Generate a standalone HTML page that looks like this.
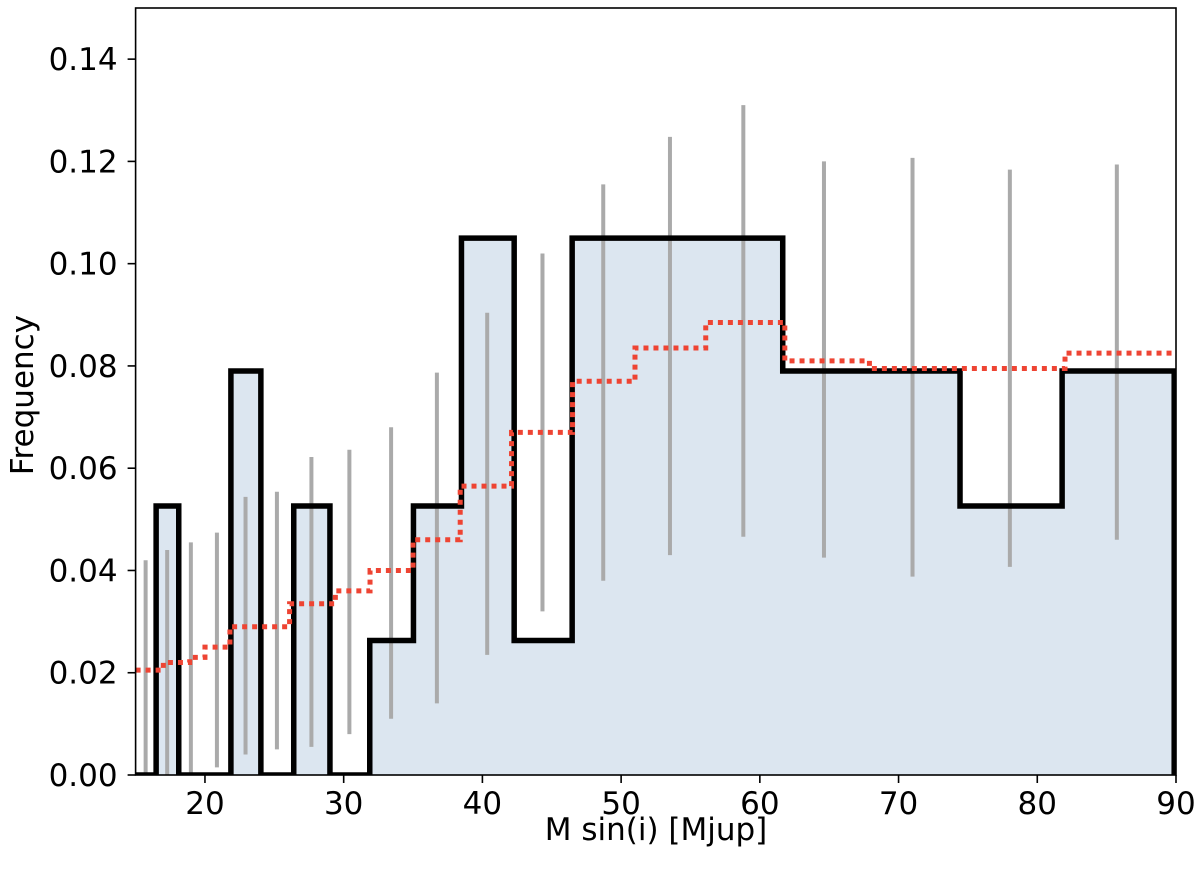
<!DOCTYPE html>
<html><head><meta charset="utf-8"><style>
body{margin:0;background:#fff}
svg text{font-family:"DejaVu Sans","Liberation Sans",sans-serif;fill:#000}
</style></head><body>
<svg id="chart" width="1200" height="875" viewBox="0 0 1200 875">
<defs><clipPath id="clip"><rect x="135.6" y="8" width="1040.4" height="767"/></clipPath></defs>
<g id="plot" clip-path="url(#clip)"></g>
<g id="axes"></g>
<text x="656" y="840" font-size="31" text-anchor="middle">M sin(i) [Mjup]</text>
<text x="33" y="395" font-size="31" text-anchor="middle" transform="rotate(-90 33 395)">Frequency</text>
</svg>
<script>
const binEdges=[15,16.48,18.11,19.90,21.87,24.03,26.40,29.01,31.88,35.03,38.49,42.29,46.47,51.06,56.10,61.65,67.74,74.43,81.79,89.87];
const freqs=[0,0.0526,0,0,0.079,0,0.0526,0,0.0263,0.0526,0.105,0.0263,0.105,0.105,0.105,0.079,0.079,0.0526,0.079];
const errLow=[0,0,0,0.0015,0.004,0.005,0.0055,0.008,0.011,0.014,0.0235,0.032,0.038,0.043,0.0466,0.0425,0.0388,0.0407,0.046];
const errHigh=[0.042,0.044,0.0455,0.0474,0.0544,0.0554,0.0622,0.0636,0.068,0.0787,0.0904,0.102,0.1155,0.1248,0.131,0.12,0.1207,0.1184,0.1194];
const refX=[15,17.0,18.9,20,21.8,26.1,29.4,31.9,35.0,38.4,42.1,46.5,51.0,56.1,61.8,67.9,82.0,90];
const refY=[0.0205,0.022,0.023,0.025,0.029,0.0335,0.036,0.040,0.046,0.0565,0.067,0.077,0.0835,0.0885,0.081,0.0795,0.0825];
const xTicks=[20,30,40,50,60,70,80,90];
const yTicks=[0,0.02,0.04,0.06,0.08,0.10,0.12,0.14];
const X0=135.6,X1=1176,Y0=775,Y1=8,xmin=15,xmax=90,ymin=0,ymax=0.15;
const sx=v=>X0+(v-xmin)/(xmax-xmin)*(X1-X0);
const sy=v=>Y0-(v-ymin)/(ymax-ymin)*(Y0-Y1);
const NS="http://www.w3.org/2000/svg";
function mk(tag,attrs,parent){const e=document.createElementNS(NS,tag);for(const k in attrs)e.setAttribute(k,attrs[k]);parent.appendChild(e);return e;}
const plot=document.getElementById('plot'),axes=document.getElementById('axes');
let d=`M${sx(binEdges[0])},${sy(0)}`;
freqs.forEach((f,i)=>{d+=` L${sx(binEdges[i])},${sy(f)} L${sx(binEdges[i+1])},${sy(f)}`;});
d+=` L${sx(binEdges[binEdges.length-1])},${sy(0)}`;
const fill=mk('path',{d:d+' Z',fill:'#dce6f0',stroke:'none'},plot);


freqs.forEach((f,i)=>{
  const c=Math.sqrt(binEdges[i]*binEdges[i+1]);
  const l=mk('line',{x1:sx(c),x2:sx(c),y1:sy(errLow[i]),y2:sy(errHigh[i]),stroke:'#aaaaaa','stroke-width':4},plot);
  
  
});
const outline=mk('path',{d:d,fill:'none',stroke:'#000','stroke-width':5.5,'stroke-linejoin':'miter'},plot);


let rd=`M${sx(refX[0])},${sy(refY[0])}`;
refY.forEach((v,i)=>{rd+=` L${sx(refX[i])},${sy(v)} L${sx(refX[i+1])},${sy(v)}`;});
const red=mk('path',{d:rd,fill:'none',stroke:'#ee4433','stroke-width':5,'stroke-dasharray':'5 5'},plot);


const frame=mk('rect',{x:X0,y:Y1,width:X1-X0,height:Y0-Y1,fill:'none',stroke:'#000','stroke-width':1.6},axes);


xTicks.forEach(t=>{
  mk('line',{x1:sx(t),x2:sx(t),y1:Y0,y2:Y0+8,stroke:'#000','stroke-width':1.6},axes);
  const tx=mk('text',{x:sx(t),y:Y0+39,'font-size':31,'text-anchor':'middle'},axes);
  tx.textContent=t;
  
  
});
yTicks.forEach(t=>{
  mk('line',{x1:X0-8,x2:X0,y1:sy(t),y2:sy(t),stroke:'#000','stroke-width':1.6},axes);
  const tx=mk('text',{x:X0-18,y:sy(t)+11,'font-size':31,'text-anchor':'end'},axes);
  tx.textContent=t.toFixed(2);
  
  
});
</script>
</body></html>
